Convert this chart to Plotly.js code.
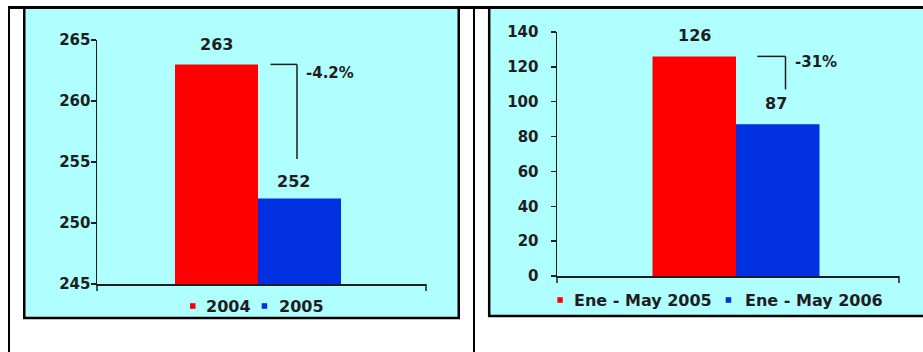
<!DOCTYPE html>
<html>
<head>
<meta charset="utf-8">
<script src="https://cdn.plot.ly/plotly-3.0.1.min.js"></script>
<style>html,body{margin:0;padding:0;background:#fff;}#chart{width:923px;height:352px;}</style>
</head>
<body>
<div id="chart"></div>
<script>
// ---- data ----
const leftCategories = ['2004', '2005'];
const leftValues = [263, 252];
const leftTicks = [245, 250, 255, 260, 265];
const rightCategories = ['Ene - May 2005', 'Ene - May 2006'];
const rightValues = [126, 87];
const rightTicks = [0, 20, 40, 60, 80, 100, 120, 140];
const seriesColors = ['#FF0000', '#0030E0'];

// ---- layout helpers (pixel -> paper) ----
const W = 923, H = 352;
const px = v => v / W;
const py = v => 1 - v / H;
const ink = '#1e1e1e';
const FONT = 'DejaVu Sans';

function pct(a, b, dec) { return ((b - a) / a * 100).toFixed(dec) + '%'; }

const panels = [
  { cats: leftCategories, vals: leftValues, ticks: leftTicks, range: [245, 265],
    xa: 'x', ya: 'y', ax0: 97, ax1: 426, ay0: 284, ay1: 40, center: 258, barW: 83,
    standoff: -3, change: pct(leftValues[0], leftValues[1], 1),
    labelShift: [[0, 20], [-6, 17]], changePos: [305, 73],
    bracket: { x0: 270.5, x1: 297, bottom: 159 },
    legend: [[190, 204.5], [261.7, 278.3]], legendY: 306 },
  { cats: rightCategories, vals: rightValues, ticks: rightTicks, range: [0, 140],
    xa: 'x2', ya: 'y2', ax0: 557, ax1: 899, ay0: 276, ay1: 32, center: 736, barW: 83.5,
    standoff: 9, change: pct(rightValues[0], rightValues[1], 0),
    labelShift: [[0, 21], [-2, 21]], changePos: [794, 62.5],
    bracket: { x0: 757.3, x1: 785.5, bottom: 89.3 },
    legend: [[557.3, 572.7], [725.7, 744.3]], legendY: 300 }
];

const traces = [];
const annotations = [];
const shapes = [
  { type: 'rect', xref: 'paper', yref: 'paper', x0: px(24.25), x1: px(458.75), y0: py(318), y1: py(7.5),
    fillcolor: '#B0FFFF', line: { color: '#000', width: 2.5 }, layer: 'below' },
  { type: 'rect', xref: 'paper', yref: 'paper', x0: px(489.2), x1: px(940), y0: py(316), y1: py(7.5),
    fillcolor: '#B0FFFF', line: { color: '#000', width: 2.5 }, layer: 'below' },
  { type: 'line', xref: 'paper', yref: 'paper', x0: px(8), x1: px(930), y0: py(7.5), y1: py(7.5),
    line: { color: '#000', width: 3 }, layer: 'below' },
  { type: 'line', xref: 'paper', yref: 'paper', x0: px(9), x1: px(9), y0: py(6), y1: py(360),
    line: { color: '#000', width: 2 }, layer: 'below' },
  { type: 'line', xref: 'paper', yref: 'paper', x0: px(474), x1: px(474), y0: py(6), y1: py(360),
    line: { color: '#000', width: 2 }, layer: 'below' }
];

const layout = {
  width: W, height: H,
  margin: { l: 0, r: 0, t: 0, b: 0, pad: 0 },
  paper_bgcolor: '#ffffff',
  plot_bgcolor: 'rgba(0,0,0,0)',
  barmode: 'overlay',
  showlegend: false,
  font: { family: FONT, color: ink }
};

panels.forEach((p, i) => {
  const axLen = p.ax1 - p.ax0;
  const r0 = -(p.center - p.ax0) / axLen;
  const w = p.barW / axLen;
  const sfx = i === 0 ? '' : '2';
  layout['xaxis' + sfx] = {
    domain: [px(p.ax0), px(p.ax1)], anchor: p.ya, range: [r0, r0 + 1],
    showline: true, linecolor: ink, linewidth: 1.5, showgrid: false, zeroline: false,
    showticklabels: false, ticks: '', fixedrange: true
  };
  layout['yaxis' + sfx] = {
    domain: [py(p.ay0), py(p.ay1)], anchor: p.xa, range: p.range,
    tickvals: p.ticks, ticktext: p.ticks.map(String),
    showline: true, linecolor: ink, linewidth: 1.5, showgrid: false, zeroline: false,
    ticks: 'outside', ticklen: 5, tickwidth: 1.5, tickcolor: ink,
    ticklabelstandoff: p.standoff,
    tickfont: { family: FONT, size: 15, color: ink, weight: 'bold' }, fixedrange: true
  };
  p.vals.forEach((v, k) => {
    traces.push({
      type: 'bar', x: [0], y: [v], name: p.cats[k], xaxis: p.xa, yaxis: p.ya,
      offset: k === 0 ? -w : 0, width: w,
      marker: { color: seriesColors[k], line: { width: 0 } }, hoverinfo: 'skip'
    });
    annotations.push({
      xref: p.xa, yref: p.ya, x: k === 0 ? -w / 2 : w / 2, y: v,
      xshift: p.labelShift[k][0], yshift: p.labelShift[k][1],
      text: String(v), showarrow: false, xanchor: 'center', yanchor: 'middle', borderpad: 0,
      font: { family: FONT, size: 16, color: ink, weight: 'bold' }
    });
    // legend
    const [sqx, tx] = p.legend[k];
    shapes.push({ type: 'rect', xref: 'paper', yref: 'paper',
      x0: px(sqx), x1: px(sqx + 5.5), y0: py(p.legendY + 2.8), y1: py(p.legendY - 2.8),
      fillcolor: seriesColors[k], line: { width: 0 } });
    annotations.push({
      xref: 'paper', yref: 'paper', x: px(tx), y: py(p.legendY),
      text: p.cats[k], showarrow: false, xanchor: 'left', yanchor: 'middle', borderpad: 0,
      font: { family: FONT, size: 16, color: ink, weight: 'bold' }
    });
  });
  // change bracket
  shapes.push({ type: 'line', xref: 'paper', yref: p.ya, x0: px(p.bracket.x0), x1: px(p.bracket.x1),
    y0: p.vals[0], y1: p.vals[0], line: { color: ink, width: 1.5 } });
  shapes.push({ type: 'line', xref: 'paper', yref: 'paper', x0: px(p.bracket.x1), x1: px(p.bracket.x1),
    y0: py(p.ay0 - (p.vals[0] - p.range[0]) / (p.range[1] - p.range[0]) * (p.ay0 - p.ay1)),
    y1: py(p.bracket.bottom), line: { color: ink, width: 1.5 } });
  annotations.push({
    xref: 'paper', yref: 'paper', x: px(p.changePos[0]), y: py(p.changePos[1]),
    text: p.change, showarrow: false, xanchor: 'left', yanchor: 'middle', borderpad: 0,
    font: { family: FONT, size: 15, color: ink, weight: 'bold' }
  });
  // end ticks of x axis (category boundaries)
  [p.ax0, p.ax1].forEach(xp => shapes.push({ type: 'line', xref: 'paper', yref: 'paper',
    x0: px(xp), x1: px(xp), y0: py(p.ay0), y1: py(p.ay0 + 7), line: { color: ink, width: 1.5 } }));
});

layout.shapes = shapes;
layout.annotations = annotations;

Plotly.newPlot('chart', traces, layout, { staticPlot: true, displayModeBar: false });
</script>
</body>
</html>
